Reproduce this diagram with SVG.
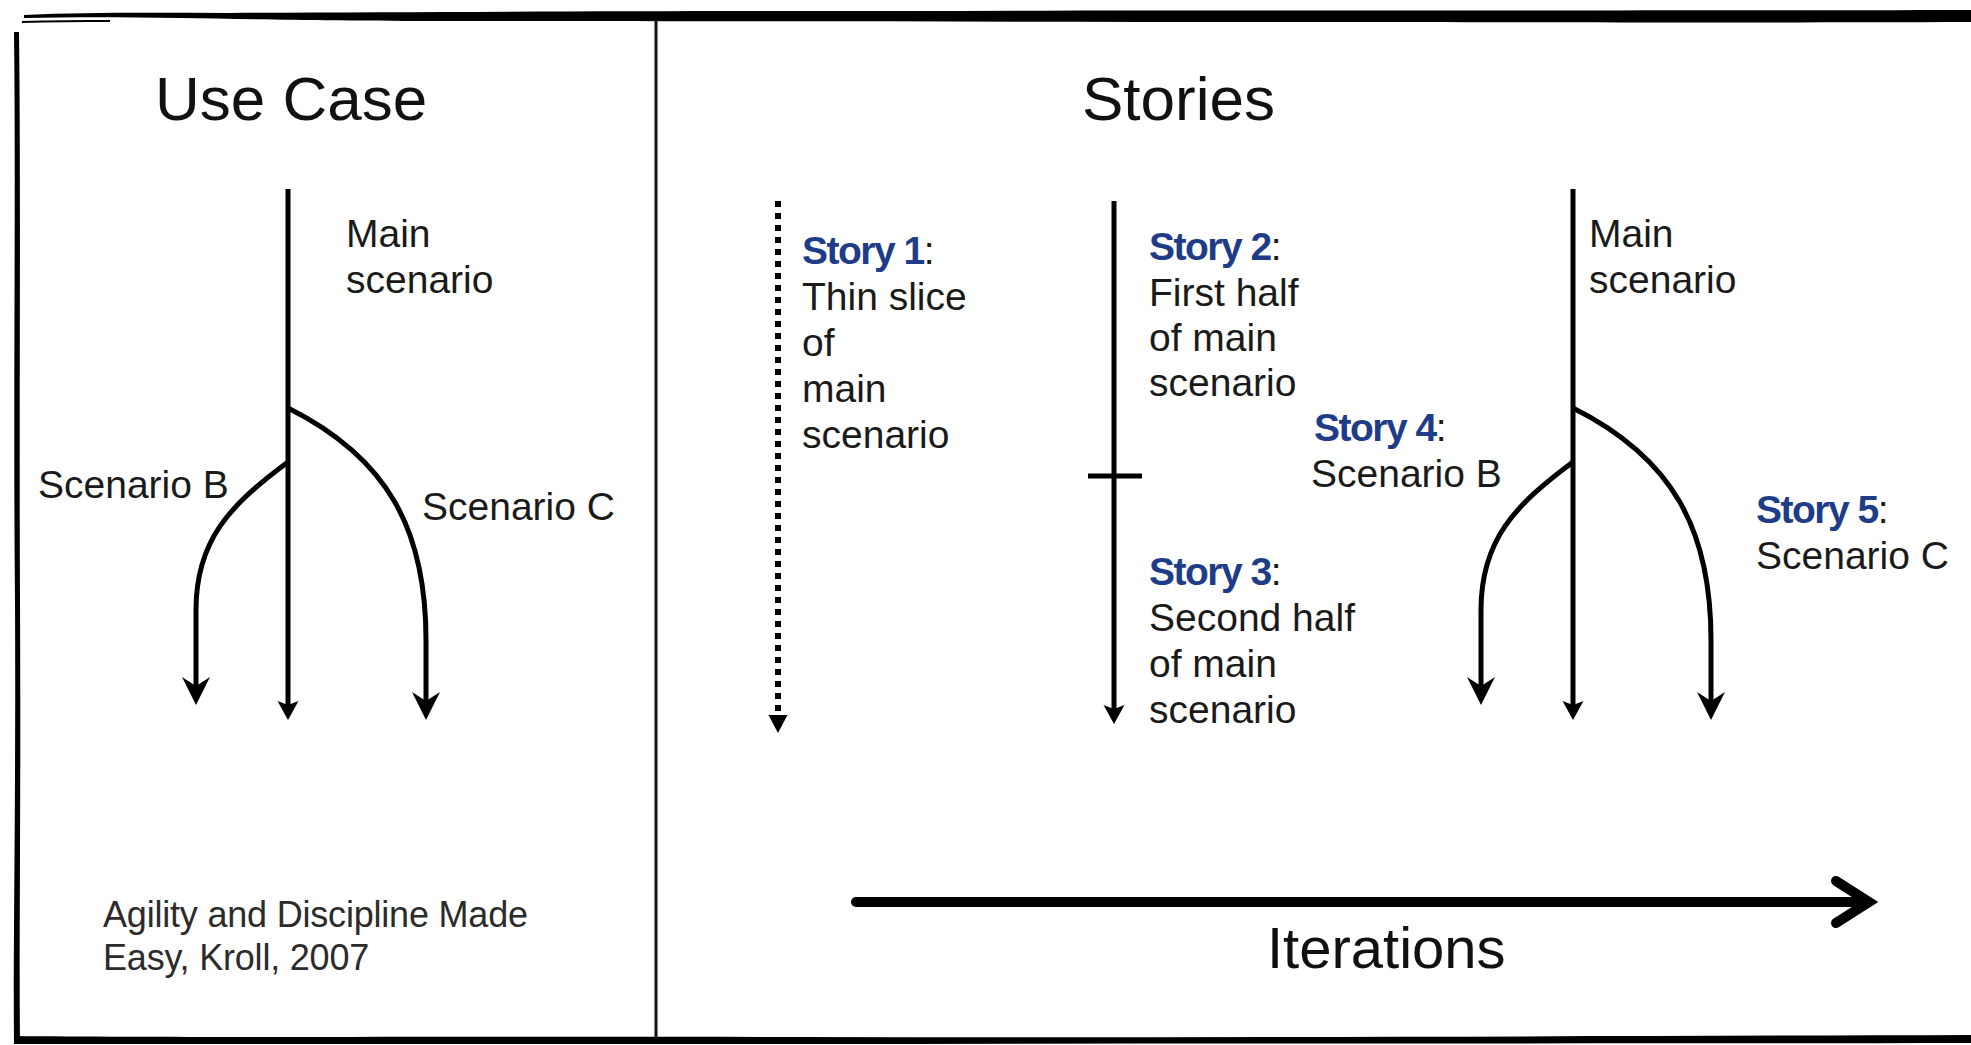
<svg xmlns="http://www.w3.org/2000/svg" width="1971" height="1045" viewBox="0 0 1971 1045">
  <style>
    .title { font-family: "Liberation Sans", Arial, sans-serif; font-size: 62px; fill: #111; }
    .body { font-family: "Liberation Sans", Arial, sans-serif; font-size: 39px; fill: #1a1a1a; }
    .story { font-weight: bold; fill: #1f3c88; letter-spacing: -1.5px; }
    .cite { font-family: "Liberation Sans", Arial, sans-serif; font-size: 36px; fill: #2b2b2b; letter-spacing: -0.2px; }
    .iter { font-family: "Liberation Sans", Arial, sans-serif; font-size: 58px; fill: #111; }
    .flow { fill: none; stroke: #000; stroke-width: 5; }
    .dotted { fill: none; stroke: #000; stroke-width: 6; stroke-dasharray: 6 6; }
    .brush { fill: #000; }
  </style>
  <defs>
    <!-- small filled head with a shallow notch (straight main flows) -->
    <marker id="headMain" markerUnits="userSpaceOnUse" markerWidth="24" markerHeight="24" viewBox="0 0 24 24" refX="8" refY="12" orient="auto">
      <path d="M0,1.5 L19,12 L0,22.5 L4,12 Z" fill="#000"/>
    </marker>
    <!-- wider barbed head for the branching scenarios -->
    <marker id="headBranch" markerUnits="userSpaceOnUse" markerWidth="34" markerHeight="34" viewBox="0 0 34 34" refX="10" refY="17" orient="auto">
      <path d="M0,3 L28,17 L0,31 L9,17 Z" fill="#000"/>
    </marker>
    <!-- plain triangle for the dotted thin-slice flow -->
    <marker id="headDot" markerUnits="userSpaceOnUse" markerWidth="24" markerHeight="24" viewBox="0 0 24 24" refX="4" refY="12" orient="auto">
      <path d="M0,2.5 L18,12 L0,21.5 Z" fill="#000"/>
    </marker>
    <filter id="softShadow" x="-5%" y="-100%" width="110%" height="300%">
      <feGaussianBlur stdDeviation="3"/>
    </filter>
  </defs>

  <rect width="1971" height="1045" fill="#fff"/>

  <!-- hand-brushed frame -->
  <g id="frame">
    <path class="brush" d="M24,15 C90,12 160,13 230,13 C420,12 620,11 900,11 C1200,10 1500,11 1971,10 L1971,22 C1700,23 1500,22 1300,22 C1000,22 700,21 450,21 C320,21 250,19 180,18 C120,17 70,17 24,18 Z"/>
    <path class="brush" d="M22,21 C50,20 80,20 110,20 L110,22 C80,22 50,22 22,23 Z"/>
    <path class="brush" d="M14,32 C16,200 13,400 15,600 C16,800 13,950 14,1043 L20,1043 C19,950 21,800 20,600 C19,400 21,200 19,32 Z"/>
    <path class="brush" d="M14,1036 C200,1038 500,1036 800,1037 C1200,1038 1600,1036 1971,1035 L1971,1043 C1600,1044 1200,1043 800,1044 C500,1044 200,1044 14,1044 Z"/>
    <line x1="656" y1="20" x2="656" y2="1038" stroke="#111" stroke-width="3"/>
  </g>

  <!-- Use Case panel -->
  <g id="use-case-title"><text class="title" x="155" y="120">Use Case</text></g>
  <g id="uc-main-label">
    <text class="body" x="346" y="247">Main</text>
    <text class="body" x="346" y="293">scenario</text>
  </g>
  <g id="uc-scenario-b"><text class="body" x="38" y="498">Scenario B</text></g>
  <g id="uc-scenario-c"><text class="body" x="422" y="520">Scenario C</text></g>
  <g id="citation">
    <text class="cite" x="103" y="927">Agility and Discipline Made</text>
    <text class="cite" x="103" y="970">Easy, Kroll, 2007</text>
  </g>

  <!-- Stories panel -->
  <g id="stories-title"><text class="title" x="1082" y="120">Stories</text></g>
  <g id="story-1">
    <text class="body" x="802" y="264"><tspan class="story">Story 1</tspan>:</text>
    <text class="body" x="802" y="310">Thin slice</text>
    <text class="body" x="802" y="356">of</text>
    <text class="body" x="802" y="402">main</text>
    <text class="body" x="802" y="448">scenario</text>
  </g>
  <g id="story-2">
    <text class="body" x="1149" y="260"><tspan class="story">Story 2</tspan>:</text>
    <text class="body" x="1149" y="306">First half</text>
    <text class="body" x="1149" y="351">of main</text>
    <text class="body" x="1149" y="396">scenario</text>
  </g>
  <g id="story-3">
    <text class="body" x="1149" y="585"><tspan class="story">Story 3</tspan>:</text>
    <text class="body" x="1149" y="631">Second half</text>
    <text class="body" x="1149" y="677">of main</text>
    <text class="body" x="1149" y="723">scenario</text>
  </g>
  <g id="story-4">
    <text class="body" x="1314" y="441"><tspan class="story">Story 4</tspan>:</text>
    <text class="body" x="1311" y="487">Scenario B</text>
  </g>
  <g id="st-main-label">
    <text class="body" x="1589" y="247">Main</text>
    <text class="body" x="1589" y="293">scenario</text>
  </g>
  <g id="story-5">
    <text class="body" x="1756" y="523"><tspan class="story">Story 5</tspan>:</text>
    <text class="body" x="1756" y="569">Scenario C</text>
  </g>
  <g id="iterations-label"><text class="iter" x="1267" y="968">Iterations</text></g>

  <!-- connectors -->
  <g id="connectors">
    <!-- use case: main flow with two alternate branches -->
    <path class="flow" d="M288,189 L288,709" marker-end="url(#headMain)"/>
    <path class="flow" d="M288,408 C388,458 426,530 426,640 L426,702" marker-end="url(#headBranch)"/>
    <path class="flow" d="M288,462 C230,505 196,540 196,610 L196,687" marker-end="url(#headBranch)"/>

    <!-- story 1: thin slice -->
    <path class="dotted" d="M778,201 L778,719" marker-end="url(#headDot)"/>

    <!-- stories 2 and 3: main scenario split in halves -->
    <path class="flow" d="M1114,201 L1114,713" marker-end="url(#headMain)"/>
    <line x1="1088" y1="476" x2="1142" y2="476" stroke="#000" stroke-width="5"/>

    <!-- stories 4 and 5: full use case with branches -->
    <path class="flow" d="M1573,189 L1573,709" marker-end="url(#headMain)"/>
    <path class="flow" d="M1573,408 C1673,458 1711,530 1711,640 L1711,702" marker-end="url(#headBranch)"/>
    <path class="flow" d="M1573,462 C1515,505 1481,540 1481,610 L1481,687" marker-end="url(#headBranch)"/>

    <!-- iterations timeline -->
    <g id="iterations-arrow">
      <g opacity="0.3" filter="url(#softShadow)" transform="translate(0,4)">
        <path d="M856,902 L1866,902" stroke="#000" stroke-width="10" fill="none"/>
      </g>
      <path d="M856,902 L1866,902" stroke="#000" stroke-width="10" stroke-linecap="round" fill="none"/>
      <path d="M1836,881 L1869,902 L1836,923" stroke="#000" stroke-width="10" stroke-linecap="round" stroke-linejoin="miter" fill="none"/>
    </g>
  </g>
</svg>
